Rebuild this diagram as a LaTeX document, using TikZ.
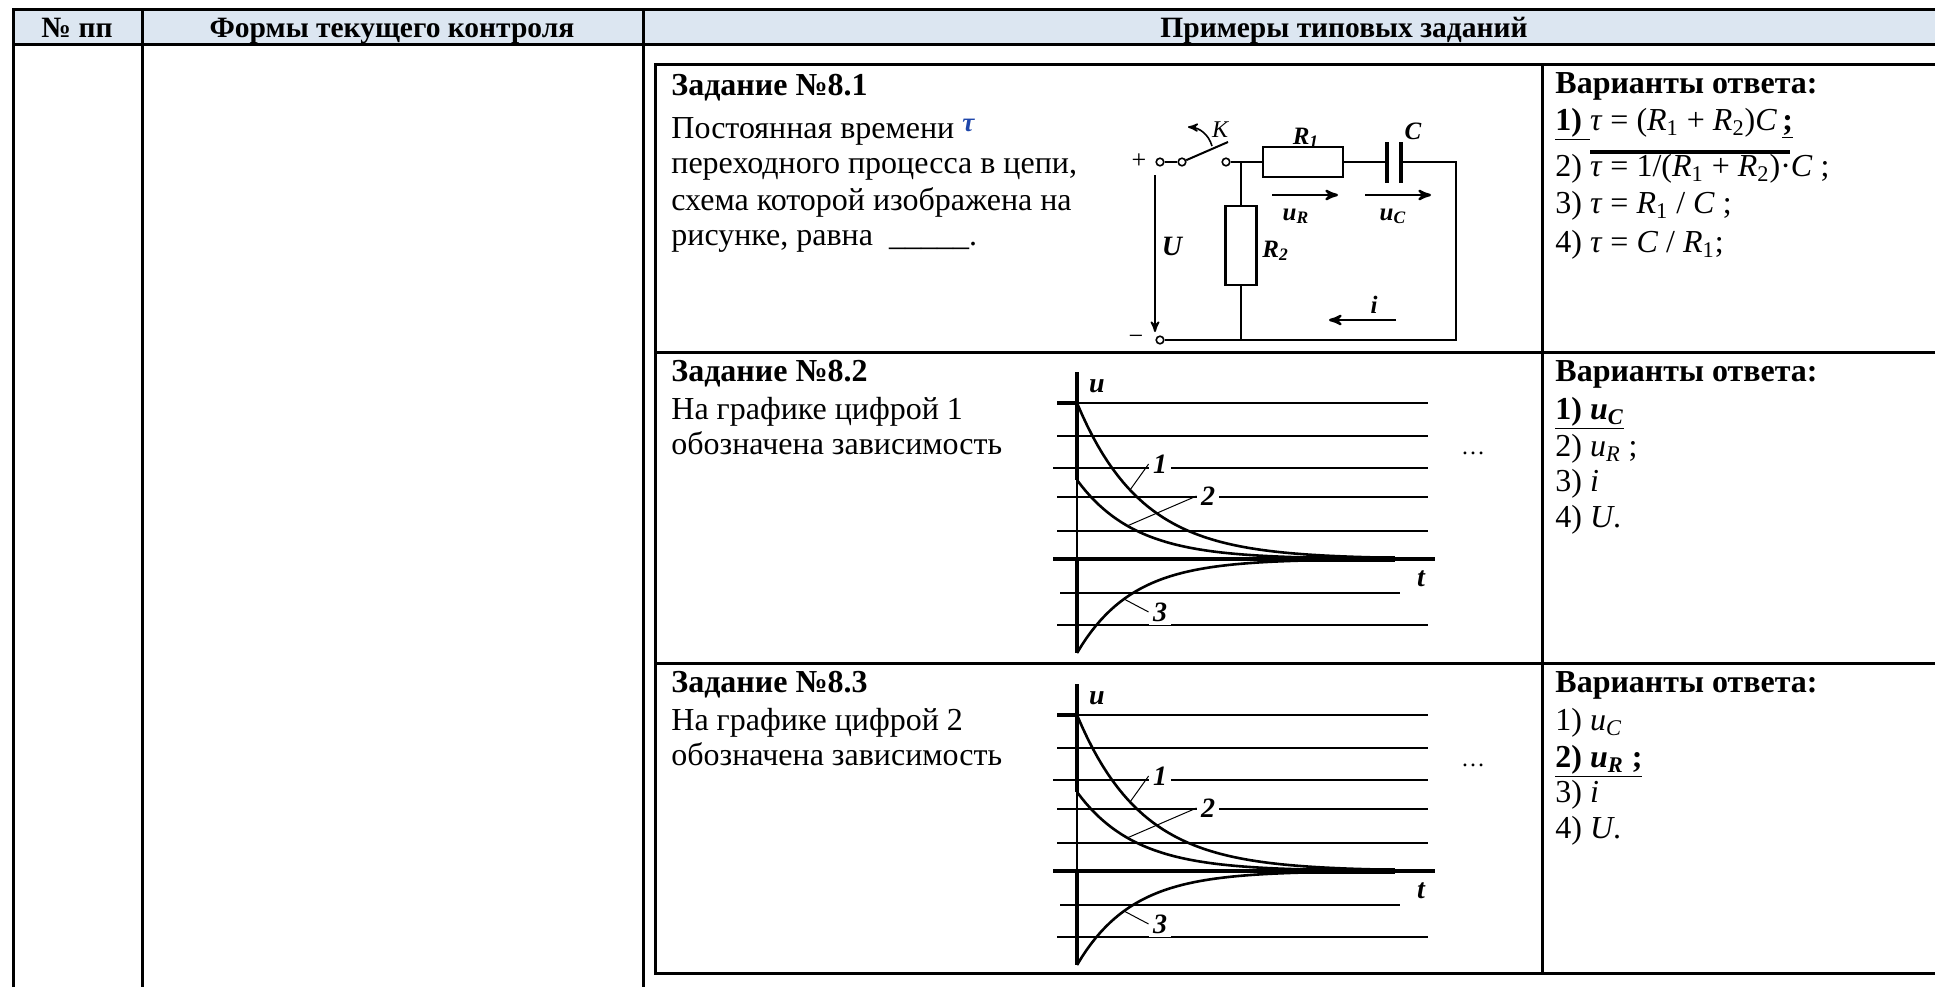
\documentclass[tikz,border=0pt]{standalone}
\usepackage{fontspec}
\setmainfont{Liberation Serif}
\usepackage{tikz}
\usetikzlibrary{arrows}
\definecolor{headfill}{RGB}{220,230,241}
\definecolor{taublue}{RGB}{30,70,170}

\begin{document}
\begin{tikzpicture}[x=0.5pt, y=-0.5pt, frame/.style={line width=1.5pt}, wire/.style={line width=1pt}, arrow/.style={line width=1.2pt, ->, >=stealth'}, term/.style={circle, draw, line width=0.8pt, inner sep=0pt, minimum size=3.8pt}, resistor/.style={rectangle, draw, line width=1.3pt, inner sep=0pt}, grid/.style={line width=0.8pt}, axis/.style={line width=2.2pt}, curve/.style={line width=1.3pt}, leader/.style={line width=0.5pt}, txt/.style={anchor=base west, inner sep=0pt, font=\fontsize{16}{18.5}\selectfont}, bold/.style={txt, font=\fontsize{16}{18.5}\selectfont\bfseries}, head/.style={anchor=base, inner sep=0pt, font=\fontsize{14.75}{17}\selectfont\bfseries}, lbl/.style={anchor=base, inner sep=0pt, font=\fontsize{12.5}{14}\selectfont\bfseries\itshape}, glbl/.style={fill=white, inner sep=2pt, font=\fontsize{14}{16}\selectfont\bfseries\itshape}]
\useasboundingbox (0,0) rectangle (1935,987);

\fill [headfill] (13,9) rectangle (1935,44);
\draw [frame] (13,987) -- (13,9) -- (1935,9);
\draw [frame] (13,44) -- (1935,44);
\draw [frame] (142,9) -- (142,987);
\draw [frame] (643,9) -- (643,987);
\node [head] (hnum) at (77,37) {№ пп};
\node [head] (hform) at (392,37) {Формы текущего контроля};
\node [head] (hexam) at (1344,37) {Примеры типовых заданий};

\draw [frame] (1935,64) -- (655,64) -- (655,973) -- (1935,973);
\draw [frame] (655,352) -- (1935,352);
\draw [frame] (655,663) -- (1935,663);
\draw [frame] (1542,64) -- (1542,973);

\node [bold] (taskone) at (671,95) {Задание №8.1};
\node [txt] (qonea) at (671,138) {Постоянная времени {\color{taublue}\fontsize{13.5}{13.5}\selectfont\raisebox{3.5pt}{\textbf{\textit{τ}}}}};
\node [txt] (qoneb) at (671,173) {переходного процесса в цепи,};
\node [txt] (qonec) at (671,210) {схема которой изображена на};
\node [txt] (qoned) at (671,245) {рисунке, равна \ \_\_\_\_\_.};

\node [bold] (anshone) at (1555,93) {Варианты ответа:};
\node [txt] (ansonea) at (1555,130) {\underline{\textbf{1)}\ }\textit{τ} = (\textit{R}\textsubscript{1} + \textit{R}\textsubscript{2})\textit{C}\,\underline{\textbf{;}}};
\draw [line width=2pt] (1590,152) -- (1790,152);
\node [txt] (ansoneb) at (1555,176) {2)\ \textit{τ} = 1/(\textit{R}\textsubscript{1} + \textit{R}\textsubscript{2})·\textit{C} ;};
\node [txt] (ansonec) at (1555,213) {3)\ \textit{τ} = \textit{R}\textsubscript{1} / \textit{C} ;};
\node [txt] (ansoned) at (1555,252) {4)\ \textit{τ} = \textit{C} / \textit{R}\textsubscript{1};};

\node [term] (tplus) at (1160,162) {};
\node [term] (tpiv) at (1182,162) {};
\node [term] (tsw) at (1226,162) {};
\node [term] (tminus) at (1160,340) {};
\node [inner sep=0pt, font=\fontsize{13}{14}\selectfont] (plus) at (1139,161) {+};
\node [inner sep=0pt, font=\fontsize{13}{14}\selectfont] (minus) at (1136,340) {−};
\node [resistor, minimum width=40pt, minimum height=15pt] (rone) at (1303,162) {};
\node [resistor, minimum width=15.5pt, minimum height=39.5pt] (rtwo) at (1241,245.5) {};
\coordinate (capl) at (1387,162);
\coordinate (capr) at (1401,162);
\coordinate (jtop) at (1241,162);
\coordinate (jbot) at (1241,340);
\coordinate (cortop) at (1456,162);
\coordinate (corbot) at (1456,340);
\coordinate (blade) at (1228,142);
\draw [wire] (tplus) -- (tpiv);
\draw [wire] (tpiv) -- (blade);
\draw [wire] (tsw) -- (rone);
\draw [wire] (rone) -- (capl);
\draw [wire] (capr) -- (cortop) -- (corbot) -- (tminus);
\draw [wire] (jtop) -- (rtwo);
\draw [wire] (rtwo) -- (jbot);
\draw [line width=1.6pt] (1387,142) -- (1387,183);
\draw [line width=1.6pt] (1401,142) -- (1401,183);
\coordinate (kfrom) at (1212,146);
\coordinate (kto) at (1188,127);
\draw [arrow, line width=0.8pt] (kfrom) to [bend right=35] (kto);
\coordinate (utop) at (1155,175);
\coordinate (ubot) at (1155,332);
\draw [arrow, line width=0.9pt] (utop) -- (ubot);
\coordinate (urs) at (1272,195);
\coordinate (ure) at (1338,195);
\draw [arrow] (urs) -- (ure);
\coordinate (ucs) at (1365,195);
\coordinate (uce) at (1431,195);
\draw [arrow] (ucs) -- (uce);
\coordinate (is) at (1396,320);
\coordinate (ie) at (1329,320);
\draw [arrow] (is) -- (ie);
\node [lbl, font=\fontsize{12}{14}\selectfont\itshape] (klabel) at (1220,137) {K};
\node [lbl] (ronelabel) at (1306,144) {R\textsubscript{1}};
\node [lbl] (clabel) at (1413,139) {C};
\node [lbl, anchor=base west] (rtwolabel) at (1262,257) {R\textsubscript{2}};
\node [lbl, font=\fontsize{14}{16}\selectfont\bfseries\itshape] (ulabel) at (1172,255) {U};
\node [lbl] (urlabel) at (1296,220) {u\textsubscript{R}};
\node [lbl] (uclabel) at (1393,220) {u\textsubscript{C}};
\node [lbl] (ilabel) at (1374,313) {i};

\node [bold] (tasktwo) at (671,381) {Задание №8.2};
\node [txt] (qtwoa) at (671,419) {На графике цифрой 1};
\node [txt] (qtwob) at (671,454) {обозначена зависимость};
\node [bold] (anshtwo) at (1555,381) {Варианты ответа:};
\node [txt] (anstwoa) at (1555,419) {\underline{\textbf{1) \textit{u}\textsubscript{\textit{C}}}}};
\node [txt] (anstwob) at (1555,456) {2) \textit{u}\textsubscript{\textit{R}} ;};
\node [txt] (anstwoc) at (1555,491) {3) \textit{i}};
\node [txt] (anstwod) at (1555,527) {4) \textit{U}.};

\node [bold] (taskthree) at (671,692) {Задание №8.3};
\node [txt] (qthreea) at (671,730) {На графике цифрой 2};
\node [txt] (qthreeb) at (671,765) {обозначена зависимость};
\node [bold] (anshthree) at (1555,692) {Варианты ответа:};
\node [txt] (ansthreea) at (1555,730) {1) \textit{u}\textsubscript{\textit{C}}};
\node [txt] (ansthreeb) at (1555,767) {\underline{\textbf{2) \textit{u}\textsubscript{\textit{R}} ;}}};
\node [txt] (ansthreec) at (1555,802) {3) \textit{i}};
\node [txt] (ansthreed) at (1555,838) {4) \textit{U}.};

\foreach \g/\dy in {two/0, three/312} {
\begin{scope}[shift={(0,\dy)}]
\draw [grid] (1057,403) -- (1428,403);
\draw [grid] (1057,436) -- (1428,436);
\draw [grid] (1053,468) -- (1428,468);
\draw [grid] (1057,497) -- (1428,497);
\draw [grid] (1057,531) -- (1428,531);
\draw [grid] (1060,593) -- (1400,593);
\draw [grid] (1057,625) -- (1428,625);
\draw [axis] (1053,559) -- (1435,559);
\draw [line width=3.2pt] (1262,559) -- (1395,559);
\draw [axis] (1057,403) -- (1077,403);
\draw [axis] (1077,372) -- (1077,480);
\draw [grid] (1077,480) -- (1077,559);
\draw [axis] (1077,559) -- (1077,653);
\draw [curve] plot [domain=0:300, samples=60] ({1077+\x}, {559-156*exp(-\x/65)});
\draw [curve] plot [domain=0:260, samples=60] ({1077+\x}, {559-79*exp(-\x/58)});
\draw [curve] plot [domain=0:280, samples=60] ({1077+\x}, {559+94*exp(-\x/55)});
\node [glbl] (lone\g) at (1160,464) {1};
\node [glbl] (ltwo\g) at (1208,496) {2};
\node [glbl] (lthree\g) at (1160,612) {3};
\coordinate (cone\g) at (1130,490);
\coordinate (ctwo\g) at (1127,526);
\coordinate (cthree\g) at (1124,599);
\draw [leader] (cone\g) -- (lone\g.west);
\draw [leader] (ctwo\g) -- (ltwo\g.west);
\draw [leader] (cthree\g) -- (lthree\g.west);
\node [glbl, fill=none] (uaxis\g) at (1097,386) {u};
\node [glbl, fill=none] (taxis\g) at (1421,579) {t};
\node [anchor=base, inner sep=0pt, font=\fontsize{12}{14}\selectfont] (dots\g) at (1473,454) {…};
\end{scope}
}
\end{tikzpicture}
\end{document}
